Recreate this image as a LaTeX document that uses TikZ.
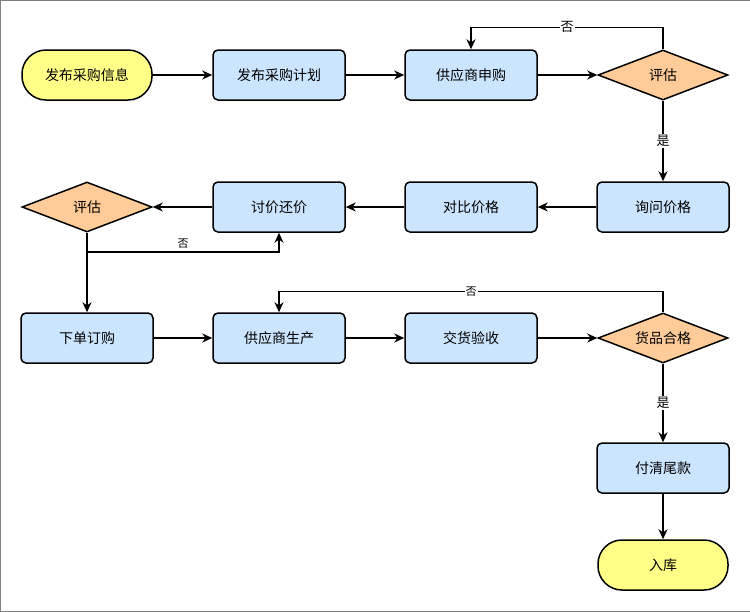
\documentclass[tikz,border=0pt]{standalone}
\usepackage{fontspec}
\setmainfont{Noto Sans CJK SC}
\usetikzlibrary{arrows.meta, shapes.geometric}
\definecolor{boxblue}{HTML}{CCE5FF}
\definecolor{boxyellow}{HTML}{FFFF88}
\definecolor{boxorange}{HTML}{FFCC99}
\tikzset{
  proc/.style={draw, line width=1.5pt, fill=boxblue, rounded corners=5pt, minimum width=132pt, minimum height=50pt, font=\fontsize{14}{16}\selectfont},
  term/.style={draw, line width=1.5pt, fill=boxyellow, rounded corners=24pt, minimum width=130pt, minimum height=50pt, font=\fontsize{14}{16}\selectfont},
  dec/.style={draw, line width=1.5pt, fill=boxorange, diamond, aspect=2.6, minimum width=130pt, minimum height=50pt, inner sep=0pt, font=\fontsize{14}{16}\selectfont},
  flow/.style={-{Stealth[length=10pt,width=9pt]}, line width=1.5pt},
  lbl/.style={fill=white, inner sep=1pt, font=\fontsize{13}{15}\selectfont}
}
\begin{document}
\begin{tikzpicture}[x=1pt, y=-1pt]
  \useasboundingbox (0,0) rectangle (750,611);
  \draw[gray, thick] (0,0) rectangle (750,611);
  \node[term] (info) at (87,75) {发布采购信息};
  \node[proc] (plan) at (279,75) {发布采购计划};
  \node[proc] (apply) at (471,75) {供应商申购};
  \node[dec] (eval1) at (663,75) {评估};
  \node[proc] (ask) at (663,207) {询问价格};
  \node[proc] (cmp) at (471,207) {对比价格};
  \node[proc] (bargain) at (279,207) {讨价还价};
  \node[dec] (eval2) at (87,207) {评估};
  \node[proc] (order) at (87,338) {下单订购};
  \node[proc] (prod) at (279,338) {供应商生产};
  \node[proc] (check) at (471,338) {交货验收};
  \node[dec] (qual) at (663,338) {货品合格};
  \node[proc] (pay) at (663,468) {付清尾款};
  \node[term] (store) at (663,565) {入库};
  % main flow
  \draw[flow] (info) -- (plan);
  \draw[flow] (plan) -- (apply);
  \draw[flow] (apply) -- (eval1);
  \draw[flow] (eval1) -- node[lbl] {是} (ask);
  \draw[flow] (ask) -- (cmp);
  \draw[flow] (cmp) -- (bargain);
  \draw[flow] (bargain) -- (eval2);
  \draw[flow] (eval2) -- (order);
  \draw[flow] (order) -- (prod);
  \draw[flow] (prod) -- (check);
  \draw[flow] (check) -- (qual);
  \draw[flow] (qual) -- node[lbl] {是} (pay);
  \draw[flow] (pay) -- (store);
  % loops back
  \draw[flow] (eval1.north) -- ++(0,-22) -| node[lbl, pos=0.25] {否} (apply.north);
  \coordinate (split) at (87,252);
  \draw[flow] (split) -| node[lbl, pos=0.25, above=2pt, fill=none, font=\fontsize{11}{13}\selectfont] {否} (bargain.south);
  \draw[flow] (qual.north) -- ++(0,-21) -| node[lbl, pos=0.25, font=\fontsize{11}{13}\selectfont] {否} (prod.north);
\end{tikzpicture}
\end{document}
